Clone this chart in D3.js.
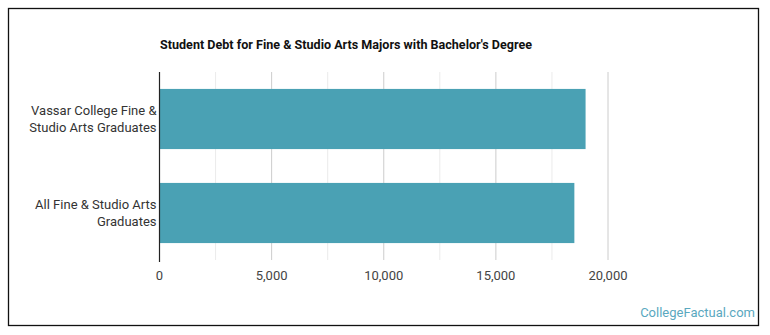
<!DOCTYPE html>
<html>
<head>
<meta charset="utf-8">
<script src="https://cdn.jsdelivr.net/npm/d3@7"></script>
<style>
  body { margin: 0; background: #fff; }
  svg { display: block; font-family: Roboto, "Noto Sans", sans-serif; }
</style>
</head>
<body>
<div id="figzone"></div>
<script>
// data
var categories = [["Vassar College Fine &", "Studio Arts Graduates"], ["All Fine & Studio Arts", "Graduates"]];
var debtValues = [19000, 18500];
var tickValues = [0, 5000, 10000, 15000, 20000];
var gridValues = [2500, 7500, 12500, 17500];
var chartTitle = "Student Debt for Fine & Studio Arts Majors with Bachelor's Degree";

var figWidth = 770, figHeight = 335;
var plotLeft = 159.5, plotTop = 72, plotW = 448.5, plotH = 188;

var svg = d3.select("#figzone").append("svg").attr("width", figWidth).attr("height", figHeight);

svg.append("rect").attr("x", 8.5).attr("y", 8.5).attr("width", 750).attr("height", 317)
    .attr("fill", "#fff").attr("stroke", "#111").attr("stroke-width", 1.3);

var x = d3.scaleLinear().domain([0, 20000]).range([plotLeft, plotLeft + plotW]);
var y = d3.scaleBand().domain(d3.range(categories.length)).range([plotTop, plotTop + plotH])
    .paddingInner(0.36).paddingOuter(0.18);

var gGrid = svg.append("g");
gGrid.selectAll("line.minor").data(gridValues).enter().append("line")
    .attr("x1", function(d){return x(d);}).attr("x2", function(d){return x(d);})
    .attr("y1", plotTop).attr("y2", plotTop + plotH)
    .attr("stroke", "#ebebeb").attr("stroke-width", 1);
gGrid.selectAll("line.major").data(tickValues.slice(1)).enter().append("line")
    .attr("x1", function(d){return x(d);}).attr("x2", function(d){return x(d);})
    .attr("y1", plotTop).attr("y2", plotTop + plotH)
    .attr("stroke", "#cccccc").attr("stroke-width", 1);

svg.append("g").selectAll("rect").data(debtValues).enter().append("rect")
    .attr("x", x(0)).attr("y", function(d, i){return y(i);})
    .attr("width", function(d){return x(d) - x(0);})
    .attr("height", y.bandwidth())
    .attr("fill", "#4aa1b4");

// zero axis line
svg.append("line").attr("x1", x(0)).attr("x2", x(0)).attr("y1", plotTop).attr("y2", plotTop + plotH + 2)
    .attr("stroke", "#222").attr("stroke-width", 1.2);

// x tick labels
svg.append("g").selectAll("text").data(tickValues).enter().append("text")
    .attr("x", function(d){return x(d);}).attr("y", 280)
    .attr("text-anchor", "middle").attr("font-size", 13).attr("fill", "#444")
    .text(d3.format(","));

// category labels
var cat = svg.append("g").selectAll("text").data(categories).enter().append("text")
    .attr("text-anchor", "end").attr("font-size", 13).attr("fill", "#333");
cat.each(function(lines, i){
    var t = d3.select(this);
    var cy = y(i) + y.bandwidth() / 2;
    var start = cy - (lines.length - 1) * 8.3 + 4.5;
    lines.forEach(function(l, j){
        t.append("tspan").attr("x", 156.5).attr("y", start + j * 16.6).text(l);
    });
});

svg.append("text").attr("x", 160).attr("y", 49).attr("font-size", 13).attr("font-weight", "bold")
    .attr("fill", "#111").attr("textLength", 372).attr("lengthAdjust", "spacingAndGlyphs")
    .text(chartTitle);

svg.append("text").attr("x", 755).attr("y", 317).attr("text-anchor", "end")
    .attr("font-size", 13).attr("fill", "#5aa8c0").text("CollegeFactual.com");
</script>
</body>
</html>
